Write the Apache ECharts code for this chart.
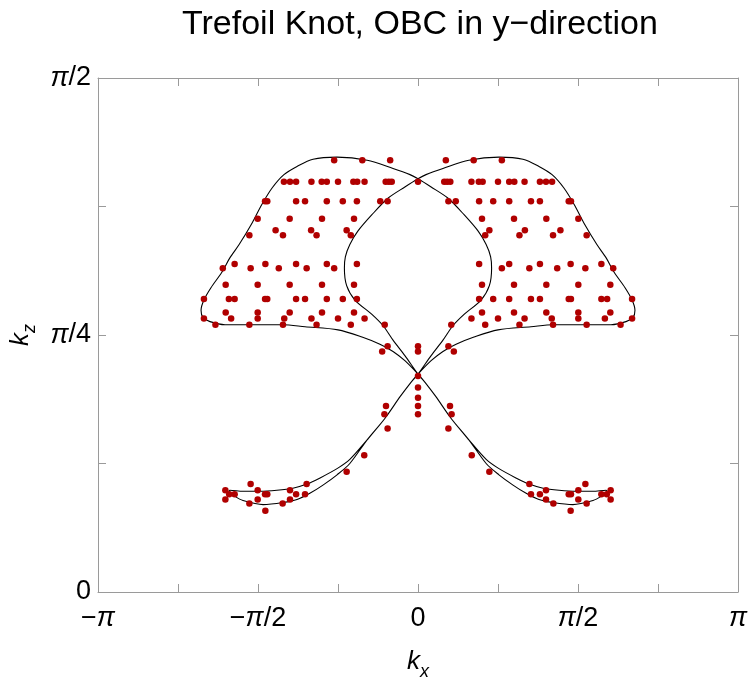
<!DOCTYPE html>
<html>
<head>
<meta charset="utf-8">
<title>Trefoil Knot, OBC in y-direction</title>
<script src="https://cdn.jsdelivr.net/npm/echarts@6/dist/echarts.min.js"></script>
<style>
  html, body { margin: 0; padding: 0; background: #fff; }
  #chart { width: 750px; height: 680px; }
</style>
</head>
<body>
<div id="chart"></div>
<script>
// all values are in units of pi (kx / pi, kz / pi)

// axis ticks
const xTickValues = [-1, -0.5, 0, 0.5, 1];
const xTickLabels = ['−π', '−π/2', '0', 'π/2', 'π'];
const yTickValues = [0, 0.25, 0.5];
const yTickLabels = ['0', 'π/4', 'π/2'];

// the knot's projected curve, one closed loop
const curveKx = [
  -0.591, -0.588, -0.547, -0.494, -0.441, -0.391, -0.347, -0.306, -0.253, -0.213,
  -0.159, -0.103, -0.056, -0.022, 0, 0.041, 0.078, 0.119, 0.175, 0.250,
  0.353, 0.422, 0.525, 0.603, 0.650, 0.672, 0.678, 0.669, 0.647, 0.613,
  0.588, 0.559, 0.522, 0.488, 0.456, 0.419, 0.378, 0.328, 0.253, 0.159,
  0.078, 0.025, 0, -0.041, -0.094, -0.144, -0.188, -0.213, -0.227, -0.230,
  -0.223, -0.197, -0.144, -0.109, -0.078, -0.041, 0, 0.022, 0.056, 0.103,
  0.159, 0.213, 0.253, 0.297, 0.338, 0.378, 0.422, 0.484, 0.547, 0.572,
  0.588, 0.591,
  0.588, 0.547, 0.494, 0.441, 0.391, 0.347, 0.306, 0.253, 0.213,
  0.159, 0.103, 0.056, 0.022, 0, -0.041, -0.078, -0.119, -0.175, -0.250,
  -0.353, -0.422, -0.525, -0.603, -0.650, -0.672, -0.678, -0.669, -0.647, -0.613,
  -0.588, -0.559, -0.522, -0.488, -0.456, -0.419, -0.378, -0.328, -0.253, -0.159,
  -0.078, -0.025, 0, 0.041, 0.094, 0.144, 0.188, 0.213, 0.227, 0.230,
  0.223, 0.197, 0.144, 0.109, 0.078, 0.041, 0, -0.022, -0.056, -0.103,
  -0.159, -0.213, -0.253, -0.297, -0.338, -0.378, -0.422, -0.484, -0.547, -0.572,
  -0.588, -0.591
];
const curveKz = [
  0.098, 0.099, 0.098, 0.098, 0.099, 0.101, 0.105, 0.111, 0.120, 0.129,
  0.148, 0.169, 0.190, 0.204, 0.212, 0.225, 0.234, 0.241, 0.248, 0.255,
  0.258, 0.260, 0.260, 0.260, 0.263, 0.267, 0.274, 0.284, 0.296, 0.311,
  0.325, 0.338, 0.357, 0.377, 0.393, 0.406, 0.414, 0.421, 0.423, 0.420,
  0.412, 0.406, 0.402, 0.394, 0.383, 0.367, 0.351, 0.338, 0.326, 0.315,
  0.298, 0.284, 0.270, 0.259, 0.245, 0.230, 0.212, 0.204, 0.190, 0.169,
  0.148, 0.125, 0.114, 0.104, 0.096, 0.090, 0.087, 0.085, 0.089, 0.093,
  0.097, 0.098,
  0.099, 0.098, 0.098, 0.099, 0.101, 0.105, 0.111, 0.120, 0.129,
  0.148, 0.169, 0.190, 0.204, 0.212, 0.225, 0.234, 0.241, 0.248, 0.255,
  0.258, 0.260, 0.260, 0.260, 0.263, 0.267, 0.274, 0.284, 0.296, 0.311,
  0.325, 0.338, 0.357, 0.377, 0.393, 0.406, 0.414, 0.421, 0.423, 0.420,
  0.412, 0.406, 0.402, 0.394, 0.383, 0.367, 0.351, 0.338, 0.326, 0.315,
  0.298, 0.284, 0.270, 0.259, 0.245, 0.230, 0.212, 0.204, 0.190, 0.169,
  0.148, 0.125, 0.114, 0.104, 0.096, 0.090, 0.087, 0.085, 0.089, 0.093,
  0.097, 0.098
];

// red states, one row of the picture per line
const dotKx = [
  -0.262, -0.174, -0.087, 0.087, 0.174, 0.262,
  -0.419, -0.400, -0.381, -0.333, -0.301, -0.285, -0.250, -0.202, -0.190, -0.167, -0.101, -0.091, -0.082, 0,
  0.082, 0.091, 0.101, 0.167, 0.190, 0.202, 0.250, 0.285, 0.301, 0.333, 0.381, 0.400, 0.419,
  -0.478, -0.471, -0.381, -0.353, -0.285, -0.235, -0.191, -0.118, -0.095,
  0.095, 0.118, 0.191, 0.235, 0.285, 0.353, 0.381, 0.471, 0.478,
  -0.501, -0.401, -0.300, -0.200, 0.200, 0.300, 0.401, 0.501,
  -0.445, -0.334, -0.223, 0.223, 0.334, 0.445,
  -0.527, -0.422, -0.317, -0.210, 0.210, 0.317, 0.422, 0.527,
  -0.573, -0.477, -0.381, -0.285, -0.191, 0.191, 0.285, 0.381, 0.477, 0.573,
  -0.610, -0.523, -0.435, -0.348, -0.262, 0.262, 0.348, 0.435, 0.523, 0.610,
  -0.601, -0.501, -0.401, -0.300, -0.200, 0.200, 0.300, 0.401, 0.501, 0.601,
  -0.669, -0.591, -0.573, -0.478, -0.471, -0.381, -0.353, -0.285, -0.235, -0.191,
  0.191, 0.235, 0.285, 0.353, 0.381, 0.471, 0.478, 0.573, 0.591, 0.669,
  -0.601, -0.501, -0.401, -0.300, -0.200, 0.200, 0.300, 0.401, 0.501, 0.601,
  -0.669, -0.584, -0.501, -0.418, -0.333, -0.250, -0.167, 0.167, 0.250, 0.333, 0.418, 0.501, 0.584, 0.669,
  -0.633, -0.527, -0.422, -0.317, -0.210, -0.104, 0.104, 0.210, 0.317, 0.422, 0.527, 0.633,
  -0.095, 0, 0.095,
  -0.112, 0, 0.112,
  0, 0, 0,
  -0.100, 0, 0.100,
  -0.105, 0, 0.105,
  -0.095, 0.095,
  -0.168, 0.168,
  -0.223, 0.223,
  -0.523, -0.348, 0.348, 0.523,
  -0.602, -0.501, -0.400, 0.400, 0.501, 0.602,
  -0.590, -0.573, -0.478, -0.471, -0.381, -0.353, 0.353, 0.381, 0.471, 0.478, 0.573, 0.590,
  -0.602, -0.501, -0.400, 0.400, 0.501, 0.602,
  -0.527, -0.423, 0.423, 0.527,
  -0.477, 0.477
];
const dotKz = [
  0.420, 0.420, 0.420, 0.420, 0.420, 0.420,
  0.399, 0.399, 0.399, 0.399, 0.399, 0.399, 0.399, 0.399, 0.399, 0.399, 0.399, 0.399, 0.399, 0.399,
  0.399, 0.399, 0.399, 0.399, 0.399, 0.399, 0.399, 0.399, 0.399, 0.399, 0.399, 0.399, 0.399,
  0.380, 0.380, 0.380, 0.380, 0.380, 0.380, 0.380, 0.380, 0.380,
  0.380, 0.380, 0.380, 0.380, 0.380, 0.380, 0.380, 0.380, 0.380,
  0.363, 0.363, 0.363, 0.363, 0.363, 0.363, 0.363, 0.363,
  0.352, 0.352, 0.352, 0.352, 0.352, 0.352,
  0.347, 0.347, 0.347, 0.347, 0.347, 0.347, 0.347, 0.347,
  0.319, 0.319, 0.319, 0.319, 0.319, 0.319, 0.319, 0.319, 0.319, 0.319,
  0.315, 0.315, 0.315, 0.315, 0.315, 0.315, 0.315, 0.315, 0.315, 0.315,
  0.299, 0.299, 0.299, 0.299, 0.299, 0.299, 0.299, 0.299, 0.299, 0.299,
  0.285, 0.285, 0.285, 0.285, 0.285, 0.285, 0.285, 0.285, 0.285, 0.285,
  0.285, 0.285, 0.285, 0.285, 0.285, 0.285, 0.285, 0.285, 0.285, 0.285,
  0.272, 0.272, 0.272, 0.272, 0.272, 0.272, 0.272, 0.272, 0.272, 0.272,
  0.266, 0.266, 0.266, 0.266, 0.266, 0.266, 0.266, 0.266, 0.266, 0.266, 0.266, 0.266, 0.266, 0.266,
  0.260, 0.260, 0.260, 0.260, 0.260, 0.260, 0.260, 0.260, 0.260, 0.260, 0.260, 0.260,
  0.239, 0.239, 0.239,
  0.234, 0.234, 0.234,
  0.210, 0.199, 0.189,
  0.181, 0.181, 0.181,
  0.173, 0.173, 0.173,
  0.159, 0.159,
  0.133, 0.133,
  0.117, 0.117,
  0.105, 0.105, 0.105, 0.105,
  0.099, 0.099, 0.099, 0.099, 0.099, 0.099,
  0.095, 0.095, 0.095, 0.095, 0.095, 0.095, 0.095, 0.095, 0.095, 0.095, 0.095, 0.095,
  0.090, 0.090, 0.090, 0.090, 0.090, 0.090,
  0.086, 0.086, 0.086, 0.086,
  0.079, 0.079
];

const FONT = '"Liberation Sans", Arial, sans-serif';
const frameColor = '#9a9a9a';

// tick label: only the labelled ticks get text, pi set in italic
function tickText(values, labels) {
  return function (v) {
    const i = values.findIndex(t => Math.abs(t - v) < 1e-9);
    if (i < 0) return '';
    return labels[i].replace('π', '{p|π}');
  };
}
const tickRich = {
  p: { fontStyle: 'italic', fontSize: 27, fontFamily: FONT, color: '#000' }
};
const nameRich = {
  i: { fontStyle: 'italic', fontSize: 26, fontFamily: FONT, color: '#000', verticalAlign: 'bottom', padding: [0, 0, 6, 0] },
  s: { fontStyle: 'italic', fontSize: 18, fontFamily: FONT, color: '#000', verticalAlign: 'bottom' }
};

function frameAxis(extra) {
  return Object.assign({
    type: 'value',
    axisLine: { show: true, onZero: false, lineStyle: { color: frameColor, width: 1 } },
    axisTick: { show: true, inside: true, length: 8, lineStyle: { color: frameColor } },
    splitLine: { show: false },
    minorTick: { show: false }
  }, extra);
}

const chart = echarts.init(document.getElementById('chart'));

const option = {
  animation: false,
  backgroundColor: '#fff',
  title: {
    text: 'Trefoil Knot, OBC in y−direction',
    left: 177,
    top: 3,
    textStyle: { fontFamily: FONT, fontSize: 34, fontWeight: 'normal', color: '#000' }
  },
  grid: { left: 98, right: 12, top: 78, bottom: 88, containLabel: false, outerBoundsMode: 'none' },
  xAxis: [
    frameAxis({
      min: -1, max: 1, interval: 0.25, position: 'bottom',
      axisLabel: {
        formatter: tickText(xTickValues, xTickLabels), rich: tickRich,
        fontSize: 27, fontFamily: FONT, color: '#000', margin: 13, showMaxLabel: true, showMinLabel: true
      },
      name: '{i|k}{s|x}', nameLocation: 'middle', nameGap: 57,
      nameTextStyle: { rich: nameRich }
    }),
    frameAxis({
      min: -1, max: 1, interval: 0.25, position: 'top',
      axisLabel: { show: false }
    })
  ],
  yAxis: [
    frameAxis({
      min: 0, max: 0.5, interval: 0.125, position: 'left',
      axisLabel: {
        formatter: tickText(yTickValues, yTickLabels), rich: tickRich,
        fontSize: 27, fontFamily: FONT, color: '#000', margin: 7, showMaxLabel: true, showMinLabel: true
      },
      name: '{i|k}{s|z}', nameLocation: 'middle', nameGap: 58, nameRotate: 90,
      nameTextStyle: { rich: nameRich }
    }),
    frameAxis({
      min: 0, max: 0.5, interval: 0.125, position: 'right',
      axisLabel: { show: false }
    })
  ],
  series: [
    {
      name: 'knot',
      type: 'line',
      xAxisIndex: 0,
      yAxisIndex: 0,
      data: curveKx.map((x, i) => [x, curveKz[i]]),
      showSymbol: false,
      symbol: 'none',
      smooth: 0.3,
      lineStyle: { color: '#000', width: 1.1 },
      z: 2
    },
    {
      name: 'states',
      type: 'scatter',
      xAxisIndex: 0,
      yAxisIndex: 0,
      data: dotKx.map((x, i) => [x, dotKz[i]]),
      symbol: 'circle',
      symbolSize: 6.5,
      itemStyle: { color: '#b00000', opacity: 1 },
      z: 3
    }
  ]
};

chart.setOption(option);
</script>
</body>
</html>
